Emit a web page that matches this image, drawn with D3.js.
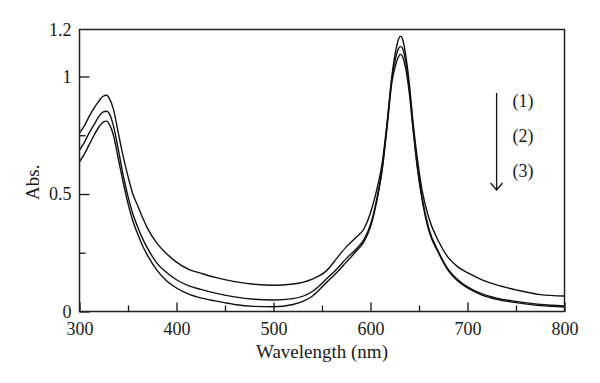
<!DOCTYPE html>
<html>
<head>
<meta charset="utf-8">
<script src="https://cdn.jsdelivr.net/npm/d3@7"></script>
<style>
  body { margin: 0; background: #fff; }
  svg { display: block; }
  text { font-family: "Liberation Serif", "DejaVu Serif", serif; fill: #1a1a1a; }
</style>
</head>
<body>
<svg id="chart" width="600" height="383"></svg>
<script>
// wavelength (nm) sampled off the figure
const wavelengths = [300, 305, 310, 315, 320, 324, 328, 331, 335, 340, 345, 350, 355, 360, 365, 370, 380, 390, 400, 412, 425, 440, 460, 480, 500, 520, 540, 555, 565, 575, 585, 593, 600, 606, 612, 617, 622, 626, 629, 631, 633, 636, 640, 644, 648, 653, 660, 670, 680, 690, 700, 715, 730, 750, 775, 800];

// absorbance of the three spectra
const abs1 = [0.76, 0.79, 0.83, 0.865, 0.895, 0.915, 0.92, 0.905, 0.86, 0.76, 0.66, 0.575, 0.5, 0.45, 0.4, 0.355, 0.29, 0.245, 0.21, 0.18, 0.163, 0.145, 0.127, 0.116, 0.112, 0.117, 0.138, 0.175, 0.225, 0.275, 0.315, 0.35, 0.42, 0.51, 0.63, 0.8, 1.0, 1.11, 1.16, 1.172, 1.16, 1.1, 0.97, 0.8, 0.66, 0.52, 0.4, 0.3, 0.23, 0.19, 0.165, 0.135, 0.113, 0.092, 0.072, 0.066];
const abs2 = [0.687, 0.72, 0.76, 0.795, 0.83, 0.848, 0.852, 0.84, 0.79, 0.69, 0.58, 0.49, 0.415, 0.36, 0.31, 0.27, 0.205, 0.165, 0.135, 0.11, 0.094, 0.078, 0.062, 0.052, 0.049, 0.055, 0.085, 0.14, 0.18, 0.225, 0.265, 0.305, 0.37, 0.47, 0.61, 0.79, 0.99, 1.08, 1.12, 1.127, 1.12, 1.07, 0.95, 0.78, 0.63, 0.49, 0.355, 0.255, 0.18, 0.135, 0.105, 0.075, 0.057, 0.043, 0.03, 0.024];
const abs3 = [0.637, 0.67, 0.71, 0.75, 0.785, 0.805, 0.81, 0.795, 0.75, 0.65, 0.55, 0.46, 0.385, 0.33, 0.28, 0.24, 0.175, 0.13, 0.1, 0.075, 0.058, 0.045, 0.03, 0.022, 0.02, 0.03, 0.065, 0.125, 0.165, 0.21, 0.255, 0.295, 0.36, 0.46, 0.6, 0.78, 0.975, 1.05, 1.085, 1.094, 1.085, 1.04, 0.93, 0.77, 0.62, 0.48, 0.345, 0.25, 0.175, 0.13, 0.1, 0.07, 0.052, 0.038, 0.025, 0.019];

const xTicks = [300, 400, 500, 600, 700, 800];
const xMinorTicks = [350, 450, 550, 650, 750];
const yTicks = [0, 0.5, 1, 1.2];
const yMinorTicks = [0.25, 0.75];
const legendLabels = ["(1)", "(2)", "(3)"];

const serif = "'Liberation Serif', 'DejaVu Serif', serif";
const svg = d3.select("#chart");
const margin = { top: 29.5, right: 35.5, bottom: 71.5, left: 79.5 };
const width = 600 - margin.left - margin.right;
const height = 383 - margin.top - margin.bottom;

const x = d3.scaleLinear().domain([300, 800]).range([0, width]);
const y = d3.scaleLinear().domain([0, 1.2]).range([height, 0]);

const g = svg.append("g").attr("transform", `translate(${margin.left},${margin.top})`);

// spectra
const line = d3
  .line()
  .x((d) => x(d[0]))
  .y((d) => y(d[1]))
  .curve(d3.curveMonotoneX);

[abs1, abs2, abs3].forEach((s) => {
  g.append("path")
    .datum(wavelengths.map((w, i) => [w, s[i]]))
    .attr("d", line)
    .attr("fill", "none")
    .attr("stroke", "#111")
    .attr("stroke-width", 1.4);
});

// inward ticks, major + minor
const xAxis = g
  .append("g")
  .attr("transform", `translate(0,${height})`)
  .call(d3.axisBottom(x).tickValues(xTicks).tickSize(-9).tickPadding(11).tickFormat(d3.format("d")));
g.append("g")
  .attr("transform", `translate(0,${height})`)
  .call(d3.axisBottom(x).tickValues(xMinorTicks).tickSize(-6).tickFormat(""));

const yAxis = g
  .append("g")
  .call(d3.axisLeft(y).tickValues(yTicks).tickSize(-10).tickPadding(8).tickFormat((d) => d));
yAxis.selectAll(".tick").filter((d) => d === 1.2).select("line").remove();
g.append("g").call(d3.axisLeft(y).tickValues(yMinorTicks).tickSize(-6).tickFormat(""));

g.selectAll(".domain").remove();
g.selectAll(".tick line").attr("stroke", "#111").attr("stroke-width", 1.3);
xAxis.attr("font-family", serif);
yAxis.attr("font-family", serif);
g.selectAll(".tick text").style("font-size", "18px").style("font-family", serif).attr("fill", "#1a1a1a");
xAxis.selectAll(".tick text").attr("dy", "0.7em");

// frame
g.append("rect")
  .attr("width", width)
  .attr("height", height)
  .attr("fill", "none")
  .attr("stroke", "#222")
  .attr("stroke-width", 1.5);

// axis titles
g.append("text")
  .attr("x", width / 2)
  .attr("y", height + 46)
  .attr("text-anchor", "middle")
  .style("font-size", "19px")
  .style("font-family", serif)
  .text("Wavelength (nm)");

g.append("text")
  .attr("transform", `translate(${-41},${y(0.55)}) rotate(-90)`)
  .attr("text-anchor", "middle")
  .style("font-size", "19px")
  .style("font-family", serif)
  .text("Abs.");

// arrow + labels
const arrowX = x(730);
const a0 = y(0.93);
const a1 = y(0.517);
g.append("path")
  .attr("d", `M${arrowX},${a0}V${a1}M${arrowX - 6},${a1 - 7}L${arrowX},${a1}L${arrowX + 6},${a1 - 7}`)
  .attr("fill", "none")
  .attr("stroke", "#111")
  .attr("stroke-width", 1.3);

const labelY = [0.891, 0.74, 0.592];
g.selectAll(".lbl")
  .data(legendLabels)
  .enter()
  .append("text")
  .attr("x", x(746.5))
  .attr("y", (d, i) => y(labelY[i]))
  .attr("dy", "0.27em")
  .style("font-size", "18px")
  .style("font-family", serif)
  .text((d) => d);
</script>
</body>
</html>
